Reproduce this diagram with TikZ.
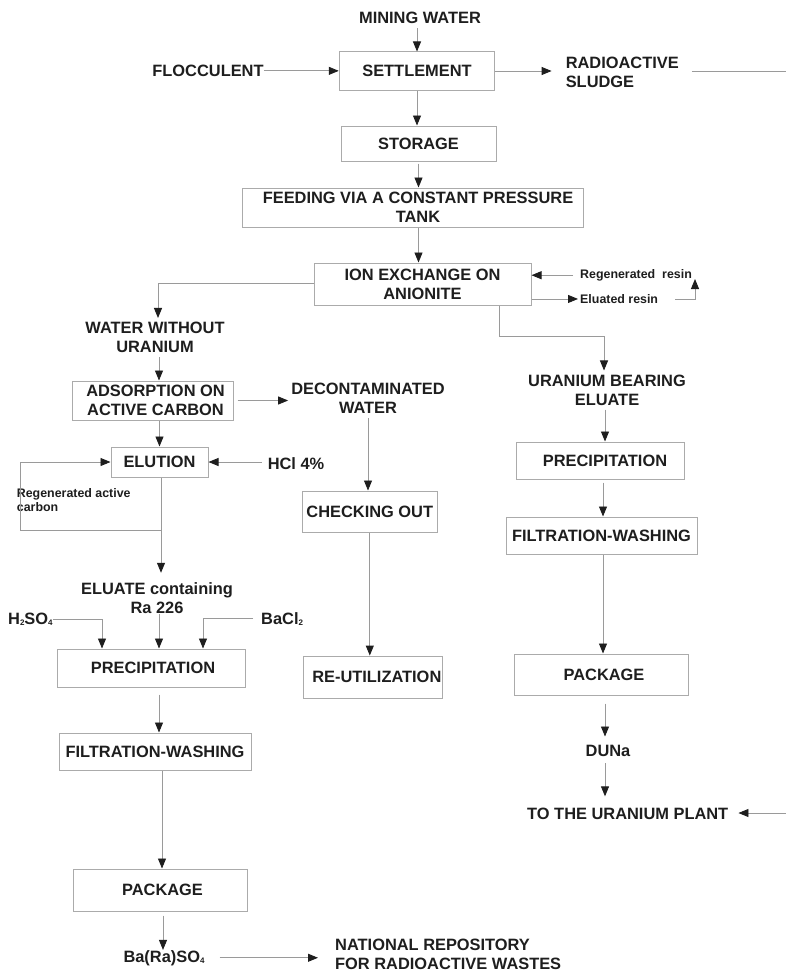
\documentclass[tikz,border=0pt]{standalone}
\usepackage{fontspec}
\setmainfont{Liberation Sans}
\usetikzlibrary{arrows.meta,calc}
\definecolor{txt}{HTML}{1E1E1E}
\definecolor{lncol}{HTML}{9A9A9A}
\definecolor{bxcol}{HTML}{ABABAB}
\newcommand{\subx}[1]{\raisebox{-1.5pt}{\fontsize{8}{8}\selectfont #1}}
\begin{document}
\begin{tikzpicture}[x=1pt,y=-1pt,
  every node/.style={text=txt,font=\bfseries\fontsize{16.4}{19}\selectfont},
  box/.style={draw=bxcol,line width=1pt,inner sep=0pt,align=center},
  lbl/.style={inner sep=0pt,align=center},
  small/.style={font=\bfseries\fontsize{12.4}{14}\selectfont},
  conn/.style={draw=lncol,line width=0.9pt},
  arr/.style={conn,-{Triangle[length=10pt,width=8pt,color=txt]}}]
\useasboundingbox (0,0) rectangle (786,974);
\fill[white] (0,0) rectangle (786,974);

% boxes
\node[box, minimum width=155.5, minimum height=38] (settle) at (417,71) {SETTLEMENT};
\node[box, minimum width=155, minimum height=35] (storage) at (418.5,143.5) {STORAGE};
\node[box, minimum width=341, minimum height=39] (feed) at (413,207.5) {\hspace*{10pt}FEEDING VIA A CONSTANT PRESSURE\\\hspace*{10pt}TANK};
\node[box, minimum width=217, minimum height=42] (ion) at (422.5,284) {ION EXCHANGE ON\\ANIONITE};
\node[box, minimum width=161, minimum height=39] (adsorb) at (152.5,400.5) {\hspace*{6pt}ADSORPTION ON\\\hspace*{6pt}ACTIVE CARBON};
\node[box, minimum width=97, minimum height=30] (elution) at (159.5,462) {ELUTION};
\node[box, minimum width=135.5, minimum height=41] (checking) at (369.8,511.5) {CHECKING OUT};
\node[box, minimum width=139.5, minimum height=42.5] (reutil) at (372.8,677.3) {\hspace*{8pt}RE-UTILIZATION};
\node[box, minimum width=188, minimum height=38] (precipL) at (151,668) {\hspace*{4pt}PRECIPITATION};
\node[box, minimum width=192, minimum height=37] (filtL) at (155,751.5) {FILTRATION-WASHING};
\node[box, minimum width=174, minimum height=42] (packL) at (160,890) {\hspace*{5pt}PACKAGE};
\node[box, minimum width=168, minimum height=37] (precipR) at (600,460.5) {\hspace*{10pt}PRECIPITATION};
\node[box, minimum width=191, minimum height=37] (filtR) at (601.5,535.5) {FILTRATION-WASHING};
\node[box, minimum width=174, minimum height=41] (packR) at (601,674.5) {\hspace*{6pt}PACKAGE};

% text labels
\node[lbl, anchor=base] (mining) at (420,23.5) {MINING WATER};
\node[lbl, anchor=base] (floc) at (208,76.5) {FLOCCULENT};
\node[lbl, anchor=west, align=left] (sludge) at (565.6,72.5) {RADIOACTIVE\\SLUDGE};
\node[lbl] (wwu) at (155,337.5) {WATER WITHOUT\\URANIUM};
\node[lbl] (decon) at (368,398.5) {DECONTAMINATED\\WATER};
\node[lbl, anchor=base] (hcl) at (296,469) {HCl 4\%};
\node[lbl, small, anchor=west, align=left] (regenC) at (16.7,500) {Regenerated active\\carbon};
\node[lbl] (eluate) at (157,598.5) {ELUATE containing\\Ra 226};
\node[lbl, anchor=base west] (h2so4) at (8,624) {H\subx{2}SO\subx{4}};
\node[lbl, anchor=base west] (bacl2) at (261,624) {BaCl\subx{2}};
\node[lbl] (uran) at (607,390) {URANIUM BEARING\\ELUATE};
\node[lbl, small, anchor=base west] (regenR) at (580,278.4) {Regenerated\ \ resin};
\node[lbl, small, anchor=base west] (eluR) at (580,303.4) {Eluated resin};
\node[lbl, anchor=base] (duna) at (608,756) {DUNa};
\node[lbl, anchor=base west] (plant) at (527,819) {TO THE URANIUM PLANT};
\node[lbl, anchor=base] (barso4) at (164,962) {Ba(Ra)SO\subx{4}};
\node[lbl, anchor=west, align=left] (national) at (335,954.5) {NATIONAL REPOSITORY\\FOR RADIOACTIVE WASTES};

% free-end coordinates
\coordinate (sludgeout) at (786,71);
\coordinate (loopA) at (161,530);
\coordinate (loopB) at (20,530);
\coordinate (rr) at (695,279);
\coordinate (ionR) at (499,336);
\coordinate (plantin) at (786,813);

% connectors: main column
\draw[arr, shorten <=4.5pt] (mining.south -| settle.north) -- (settle.north);
\draw[arr] (floc.east) -- (floc.east -| settle.west);
\draw[arr, shorten >=14pt] (settle.east) -- (settle.east -| sludge.west);
\draw[conn, shorten <=13pt] (sludge.east |- sludgeout) -- (sludgeout);
\draw[arr] (settle.south) -- (settle.south |- storage.north);
\draw[arr, shorten <=2pt] (storage.south) -- (storage.south |- feed.north);
\draw[arr] (storage.south |- feed.south) -- (storage.south |- ion.north);

% resin loop
\draw[arr, shorten <=7pt] (regenR.west) -- (regenR.west -| ion.east);
\draw[arr, shorten >=2pt] (ion.east |- eluR.west) -- (eluR.west);
\draw[arr, shorten <=17pt] (eluR.east) -| (rr);

% left branch
\draw[arr, shorten >=4pt] (ion.west |- 0,283) -| ([xshift=3pt]wwu.north);
\draw[arr, shorten <=4pt] ([xshift=4pt]wwu.south) -- ([xshift=4pt]wwu.south |- adsorb.north);
\draw[arr, shorten <=4pt, shorten >=3pt] (adsorb.east) -- (adsorb.east -| decon.west);
\draw[arr, shorten <=4pt] (decon.south) -- (decon.south |- checking.north);
\draw[arr] (elution.north |- adsorb.south) -- (elution.north);
\draw[arr, shorten <=6pt] (hcl.west |- elution.east) -- (elution.east);
\draw[conn] ([xshift=1.5pt]elution.south) -- (loopA);
\draw[arr] (loopA) -- (loopB) |- (elution.west);
\draw[arr, shorten >=10pt] (loopA) -- (loopA |- eluate.north);
\draw[arr] ([xshift=2pt]eluate.south) -- ([xshift=2pt]eluate.south |- precipL.north);
\draw[arr] (h2so4.east) -| ([xshift=-49pt]precipL.north);
\draw[arr, shorten <=8pt] (bacl2.west) -| ([xshift=52pt]precipL.north);
\draw[arr, shorten <=7pt] ([xshift=8pt]precipL.south) -- ([xshift=8pt]precipL.south |- filtL.north);
\draw[arr] ([xshift=7pt]filtL.south) -- ([xshift=7pt]filtL.south |- packL.north);
\draw[arr, shorten <=4pt] ([xshift=3pt]packL.south) -- ([xshift=3pt]packL.south |- barso4.north);
\draw[arr, shorten <=15pt, shorten >=17pt] (barso4.east) -- (barso4.east -| national.west);
\draw[arr] (checking.south) -- (checking.south |- reutil.north);

% right branch
\draw[arr, shorten >=4pt] (ionR |- ion.south) -- (ionR) -| ([xshift=-3pt]uran.north);
\draw[arr, shorten <=4pt] ([xshift=-2pt]uran.south) -- ([xshift=-2pt]uran.south |- precipR.north);
\draw[arr, shorten <=3pt] ([xshift=3pt]precipR.south) -- ([xshift=3pt]precipR.south |- filtR.north);
\draw[arr] ([xshift=1.5pt]filtR.south) -- ([xshift=1.5pt]filtR.south |- packR.north);
\draw[arr, shorten <=8pt, shorten >=8pt] ([xshift=4pt]packR.south) -- ([xshift=4pt]packR.south |- duna.north);
\draw[arr, shorten <=7pt, shorten >=11pt] ([xshift=-3pt]duna.south) -- ([xshift=-3pt]duna.south |- plant.north);
\draw[arr, shorten >=10pt] (plantin) -- (plant.east |- plantin);
\end{tikzpicture}
\end{document}
